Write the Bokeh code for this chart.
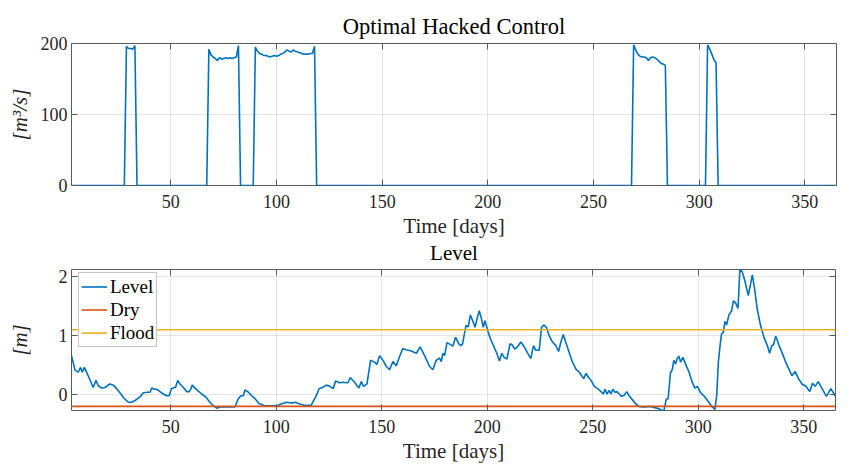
from bokeh.plotting import figure
from bokeh.models import (LinearAxis, FixedTicker, Range1d, Legend, LegendItem,
                          CustomJSTickFormatter, Title)
from bokeh.layouts import column
from bokeh.embed import file_html
from bokeh.resources import INLINE

# ---------------- data ----------------
x_ticks = [50, 100, 150, 200, 250, 300, 350]
ctrl_ticks = [0, 100, 200]
level_ticks = [0, 1, 2]

ctrl_day = [3, 28, 29, 30, 31, 32, 33, 34,
            67, 68, 69, 70, 71, 72, 73, 74, 75, 76, 77, 78, 79, 80, 81, 82, 83,
            89, 90, 91, 92, 93, 94, 95, 96, 97, 98, 99, 100, 101, 102, 103, 104,
            105, 106, 107, 108, 109, 110, 111, 112, 113, 114, 115, 116, 117, 118, 119,
            268, 269, 270, 271, 272, 273, 274, 275, 276, 277, 278, 279, 280, 281,
            282, 283, 284, 285,
            303, 304, 305, 306, 307, 308, 309, 365]
ctrl_val = [0, 0, 196, 193, 193, 192, 197, 0,
            0, 192, 184, 181, 179, 176, 180, 178, 179, 180, 179, 180, 179, 180, 181, 197, 0,
            0, 195, 189, 186, 185, 183, 183, 182, 181, 182, 183, 182, 183, 185, 186, 188,
            191, 189, 188, 191, 189, 188, 187, 186, 185, 185, 185, 186, 186, 196, 0,
            0, 198, 191, 185, 182, 181, 181, 180, 176, 180, 181, 180, 178, 175,
            172, 171, 169, 0,
            0, 198, 192, 185, 177, 173, 0, 0]

level_day = [3, 4.7, 6.2, 7.3, 8.1, 9.1, 10.0, 11.0, 13.3, 14.6, 15.7, 17.3, 18.9, 21.2,
             22.8, 24.4, 26.4, 27.6, 29.9, 31.5, 33.1, 35.5, 37.0, 39.1, 40.2, 41.0,
             42.2, 43.3, 44.9, 46.5, 48.1, 49.2, 50.4, 51.6, 52.3, 53.3, 54.4, 56.0,
             57.6, 58.8, 59.6, 60.2, 61.5, 63.1, 64.7, 66.6, 68.6, 70.2, 71.8, 73.3,
             75.7, 78.1, 80.4, 82.0, 83.3, 84.4, 85.2, 86.8, 88.4, 90.0, 91.8, 93.1,
             94.5, 96.9, 99.2, 100.8, 102.4, 104.8, 106.7, 107.9, 109.1, 111.1, 113.4,
             116.6, 118.2, 119.0, 120.3, 121.9, 123.7, 125.4, 127.0, 128.1, 130.0,
             131.6, 133.2, 134.0, 135.1, 137.1, 139.2, 140.3, 141.4, 143.0, 144.7,
             146.6, 147.7, 149.0, 150.6, 152.1, 153.7, 155.3, 156.9, 158.4, 160.0,
             161.6, 164.0, 166.4, 168.2, 170.3, 172.6, 174.2, 175.8, 177.4, 178.2,
             179.0, 179.8, 180.9, 182.4, 183.7, 185.0, 186.5, 187.5, 188.3, 189.9,
             191.0, 192.0, 193.1, 194.2, 195.1, 196.2, 197.3, 198.1, 198.9, 200.5,
             201.7, 203.3, 204.5, 205.8, 206.9, 208.0, 209.3, 210.8, 211.9, 213.0,
             214.3, 215.9, 217.5, 219.0, 220.6, 221.9, 223.0, 224.6, 225.7, 226.9,
             228.0, 229.3, 230.9, 232.5, 233.8, 234.9, 236.0, 237.3, 238.9, 240.4,
             242.0, 243.6, 244.7, 245.7, 246.8, 248.0, 249.2, 250.7, 252.3, 253.9,
             255.0, 255.8, 256.7, 257.8, 258.6, 259.5, 260.5, 261.4, 262.5, 263.6,
             264.9, 266.1, 267.2, 268.8, 270.4, 271.9, 273.5, 275.1, 276.7, 278.2,
             280.3, 281.3, 282.9, 283.7, 284.8, 285.7, 286.8, 287.6, 288.4, 289.2,
             290.0, 290.8, 291.6, 292.7, 293.9, 295.5, 297.1, 298.4, 299.5, 301.1,
             303.1, 305.0, 306.6, 307.9, 308.7, 309.5, 310.3, 311.0, 311.8, 312.6,
             313.4, 314.5, 315.8, 316.6, 317.7, 318.8, 319.7, 320.8, 321.9, 323.7,
             324.8, 325.6, 326.8, 327.9, 329.5, 331.1, 332.7, 333.8, 334.8, 335.6,
             336.7, 338.3, 339.9, 341.5, 343.1, 344.3, 345.9, 347.5, 349.1, 351.0,
             352.8, 354.1, 355.4, 356.8, 358.5, 360.7, 362.8, 365.0]
level_val = [0.66, 0.41, 0.38, 0.46, 0.38, 0.46, 0.39, 0.31, 0.12, 0.24, 0.15, 0.11, 0.12, 0.18,
             0.16, 0.10, 0.01, -0.05, -0.13, -0.13, -0.10, -0.04, 0.03, 0.04, 0.04, 0.11,
             0.09, 0.09, 0.05, 0.01, -0.02, -0.02, 0.10, 0.12, 0.12, 0.24, 0.18, 0.12,
             0.05, 0.05, 0.10, 0.16, 0.11, 0.06, 0.01, -0.04, -0.13, -0.19, -0.23, -0.21,
             -0.21, -0.21, -0.21, -0.07, -0.02, -0.02, 0.08, 0.04, -0.02, -0.07, -0.15, -0.17,
             -0.19, -0.19, -0.19, -0.18, -0.16, -0.13, -0.14, -0.14, -0.13, -0.16, -0.18,
             -0.18, -0.07, -0.02, 0.10, 0.12, 0.16, 0.14, 0.10, 0.23, 0.20,
             0.21, 0.20, 0.20, 0.29, 0.21, 0.11, 0.22, 0.14, 0.18, 0.58,
             0.55, 0.51, 0.66, 0.58, 0.48, 0.42, 0.56, 0.49, 0.64, 0.78,
             0.76, 0.74, 0.70, 0.81, 0.66, 0.48, 0.42, 0.58, 0.62, 0.56,
             0.70, 0.66, 0.88, 0.85, 0.82, 0.97, 0.86, 0.83, 0.86, 1.17,
             1.15, 1.35, 1.25, 1.14, 1.28, 1.42, 1.28, 1.14, 1.25, 1.05,
             0.93, 0.80, 0.70, 0.57, 0.70, 0.63, 0.60, 0.86, 0.84, 0.77,
             0.81, 0.89, 0.81, 0.71, 0.61, 0.83, 0.75, 0.75, 1.14, 1.18,
             1.14, 1.00, 0.89, 0.83, 0.73, 0.89, 1.02, 0.88, 0.70, 0.55,
             0.43, 0.38, 0.32, 0.27, 0.36, 0.29, 0.24, 0.14, 0.10, 0.05,
             0.01, 0.09, 0.01, 0.07, 0.01, 0.09, 0.04, 0.05, 0.01, -0.03,
             -0.01, 0.05, -0.02, -0.09, -0.16, -0.20, -0.21, -0.21, -0.20, -0.21,
             -0.23, -0.24, -0.27, -0.27, -0.08, -0.07, 0.37, 0.42, 0.58, 0.52,
             0.61, 0.65, 0.55, 0.63, 0.52, 0.39, 0.21, 0.11, 0.14, 0.03,
             -0.04, -0.13, -0.21, -0.25, -0.02, 0.55, 0.83, 1.03, 1.05, 1.24,
             1.18, 1.35, 1.42, 1.59, 1.55, 1.46, 2.12, 2.08, 1.95, 1.68,
             1.88, 2.03, 1.76, 1.45, 1.17, 0.97, 0.83, 0.70, 0.83, 0.84,
             0.99, 0.83, 0.69, 0.54, 0.42, 0.32, 0.39, 0.27, 0.18, 0.14,
             0.05, 0.19, 0.14, 0.22, 0.11, -0.03, 0.10, -0.03]
dry_level = -0.2
flood_level = 1.1

# ---------------- style ----------------
FONT = "Liberation Serif"
TXT = "#262626"
BOX = "#5a5a5a"
BLUE = "#0072BD"
ORANGE = "#D95319"
YELLOW = "#EDB120"


def blank_axis(ticker):
    return LinearAxis(ticker=ticker, formatter=CustomJSTickFormatter(code="return ''"),
                      axis_line_color=None, major_tick_in=6, major_tick_out=0,
                      minor_tick_in=0, minor_tick_out=0, major_tick_line_color=BOX,
                      major_label_standoff=0, major_label_text_font_size="1px")


def style(p, yticks, ylabel, ylab_standoff):
    p.title.text_font = FONT
    p.title.text_font_style = "normal"
    p.title.text_color = "#000000"
    p.title.align = "center"
    p.outline_line_color = BOX
    p.outline_line_width = 1
    xt = FixedTicker(ticks=x_ticks)
    yt = FixedTicker(ticks=yticks)
    p.xaxis.ticker = xt
    p.yaxis.ticker = yt
    p.xgrid.ticker = xt
    p.ygrid.ticker = yt
    for g in (p.xgrid, p.ygrid):
        g.grid_line_color = "#262626"
        g.grid_line_alpha = 0.12
    for ax in (p.xaxis[0], p.yaxis[0]):
        ax.axis_line_color = None
        ax.major_tick_in = 6
        ax.major_tick_out = 0
        ax.minor_tick_in = 0
        ax.minor_tick_out = 0
        ax.major_tick_line_color = BOX
        ax.major_label_text_font = FONT
        ax.major_label_text_font_size = "18px"
        ax.major_label_text_color = TXT
        ax.axis_label_text_font = FONT
        ax.axis_label_text_font_size = "21px"
        ax.axis_label_text_font_style = "normal"
        ax.axis_label_text_color = TXT
    p.xaxis.axis_label = "Time [days]"
    p.xaxis.major_label_standoff = 9
    p.xaxis.axis_label_standoff = 3
    p.yaxis.axis_label = ylabel
    p.yaxis.axis_label_text_font_style = "italic"
    p.yaxis.major_label_standoff = 4
    p.yaxis.axis_label_standoff = ylab_standoff
    p.add_layout(blank_axis(xt), "above")
    p.add_layout(blank_axis(yt), "right")


p1 = figure(frame_width=765, frame_height=142, x_range=Range1d(3, 365),
            y_range=Range1d(0, 200), output_backend="svg", toolbar_location=None,
            min_border_left=70, min_border_right=4, min_border_top=43,
            min_border_bottom=40, title="Optimal Hacked Control")
p1.title.text_font_size = "22.5px"
style(p1, ctrl_ticks, "[m³/s]", 6)
p1.line(ctrl_day, ctrl_val, line_color=BLUE, line_width=1.6)
# title of the second panel, stacked under the first panel's x axis label
p1.add_layout(Title(text="Level", align="center", vertical_align="top", standoff=0,
                    text_font=FONT, text_font_size="21px", text_font_style="normal",
                    text_color="#000000"), "below")

P2_FH = 141
p2 = figure(frame_width=764, frame_height=P2_FH, x_range=Range1d(3, 365),
            y_range=Range1d(-0.27, 2.12), output_backend="svg", toolbar_location=None,
            min_border_left=71, min_border_right=4, min_border_top=3,
            min_border_bottom=40)
style(p2, level_ticks, "[m]", 24)
r_level = p2.line(level_day, level_val, line_color=BLUE, line_width=1.6)
edge_days = [level_day[0], level_day[-1]]
r_dry = p2.line(edge_days, [dry_level, dry_level], line_color=ORANGE, line_width=1.6)
r_flood = p2.line(edge_days, [flood_level, flood_level], line_color=YELLOW, line_width=1.6)

LEG_PAD, LEG_ROW = 2, 23
leg_h = 2 * LEG_PAD + 3 * LEG_ROW
legend = Legend(items=[LegendItem(label="Level", renderers=[r_level]),
                       LegendItem(label="Dry", renderers=[r_dry]),
                       LegendItem(label="Flood", renderers=[r_flood])],
                location=(7, P2_FH - 5 - leg_h), padding=LEG_PAD, spacing=0,
                label_height=LEG_ROW, glyph_height=LEG_ROW, glyph_width=26,
                label_standoff=3,
                label_text_font=FONT, label_text_font_size="19px",
                label_text_color="#000000", border_line_color="#8c8c8c",
                border_line_width=1, background_fill_color="white",
                background_fill_alpha=1.0)
p2.add_layout(legend)

layout = column(p1, p2)
open("out.html", "w").write(file_html(layout, INLINE))
